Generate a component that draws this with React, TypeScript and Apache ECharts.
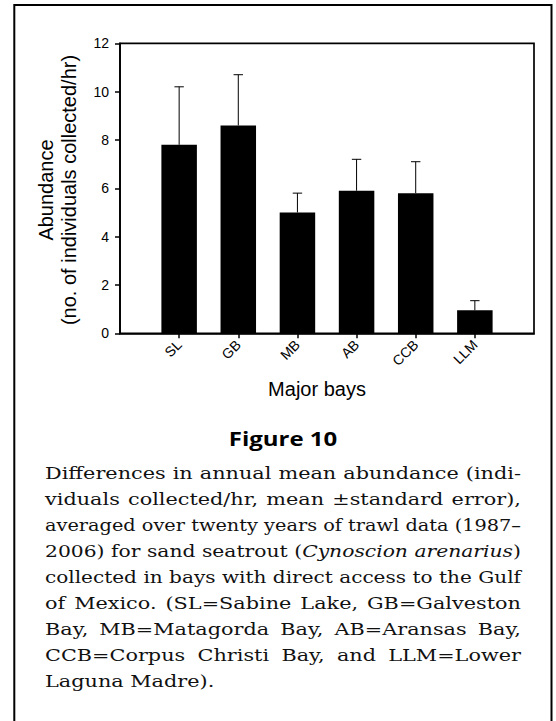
import React, { useEffect, useRef } from "react";
import * as echarts from "echarts";

// ---------- data ----------
const categories = ["SL", "GB", "MB", "AB", "CCB", "LLM"];
const meanAbundance = [7.8, 8.6, 5.0, 5.9, 5.8, 0.95];
const standardError = [2.4, 2.1, 0.8, 1.3, 1.3, 0.4];
const yMin = 0;
const yMax = 12;
const yStep = 2;
const yAxisTitleLines = ["Abundance", "(no. of individuals collected/hr)"];
const xAxisTitle = "Major bays";
const figureLabel = "Figure 10";
const captionLines = [
  "Differences in annual mean abundance (indi-",
  "viduals collected/hr, mean ±standard error),",
  "averaged over twenty years of trawl data (1987–",
  "2006) for sand seatrout (*Cynoscion arenarius*)",
  "collected in bays with direct access to the Gulf",
  "of Mexico. (SL=Sabine Lake, GB=Galveston",
  "Bay, MB=Matagorda Bay, AB=Aransas Bay,",
  "CCB=Corpus Christi Bay, and LLM=Lower",
  "Laguna Madre).",
];

// ---------- layout / style ----------
const SANS = '"Liberation Sans", Arial, Helvetica, sans-serif';
const SERIF = '"DejaVu Serif", serif';
const CAP_SIZE = 16;
const CAP_LEFT = 45;
const CAP_WIDTH = 476;
const CAP_FIRST_BASE = 479;
const CAP_LEAD = 26;
const CAP_MAX_STRETCH = 1.3;

type Seg = { text: string; italic: boolean };

function parseLine(line: string): Seg[][] {
  let italic = false;
  return line.split(" ").map((word) => {
    const segs: Seg[] = [];
    word.split("*").forEach((p, k) => {
      if (k > 0) italic = !italic;
      if (p) segs.push({ text: p, italic });
    });
    return segs;
  });
}

function buildCaption(): any[] {
  const canvas = document.createElement("canvas");
  const ctx = canvas.getContext("2d")!;
  const measure = (t: string, italic: boolean) => {
    ctx.font = `${italic ? "italic " : ""}${CAP_SIZE}px "DejaVu Serif"`;
    return ctx.measureText(t).width;
  };
  const spaceW = measure(" ", false);
  const out: any[] = [];
  captionLines.forEach((line, li) => {
    const words = parseLine(line);
    const widths = words.map((w) => w.reduce((s, g) => s + measure(g.text, g.italic), 0));
    const sumW = widths.reduce((a, b) => a + b, 0);
    const n = words.length;
    const natural = sumW + spaceW * (n - 1);
    const isLast = li === captionLines.length - 1;
    let s: number;
    let gap: number;
    if (isLast) {
      s = CAP_MAX_STRETCH;
      gap = spaceW * s;
    } else {
      s = Math.min(CAP_MAX_STRETCH, CAP_WIDTH / natural);
      gap = n > 1 ? (CAP_WIDTH - s * sumW) / (n - 1) : 0;
    }
    const y = CAP_FIRST_BASE + li * CAP_LEAD - 0.346 * CAP_SIZE;
    let x = CAP_LEFT;
    words.forEach((w, wi) => {
      let sx = x;
      w.forEach((g) => {
        out.push({
          type: "text",
          x: sx,
          y,
          scaleX: s,
          silent: true,
          style: {
            text: g.text,
            fontFamily: SERIF,
            fontSize: CAP_SIZE,
            fontStyle: g.italic ? "italic" : "normal",
            fill: "#111",
            align: "left",
            verticalAlign: "middle",
          },
        });
        sx += measure(g.text, g.italic) * s;
      });
      x += widths[wi] * s + gap;
    });
  });
  return out;
}

export default function App() {
  const ref = useRef<HTMLDivElement>(null);
  useEffect(() => {
    const el = ref.current!;
    const chart = echarts.init(el, null, { renderer: "svg" });

    const xCats = ["", ...categories, ""];
    const barData = ["-", ...meanAbundance, "-"];
    const errData = categories.map((_, i) => [i + 1, meanAbundance[i], meanAbundance[i] + standardError[i]]);
    const lineStyle = { color: "#000", width: 1.7 };

    const option: any = {
      animation: false,
      backgroundColor: "#fff",
      grid: {
        left: 120,
        top: 43.3,
        width: 414,
        height: 290,
        show: true,
        borderColor: "#000",
        borderWidth: 1.7,
        backgroundColor: "transparent",
      },
      xAxis: {
        type: "category",
        data: xCats,
        boundaryGap: false,
        axisLine: { show: true, onZero: false, lineStyle },
        axisTick: {
          show: true,
          length: 5,
          interval: (i: number) => i > 0 && i < xCats.length - 1,
          lineStyle: { color: "#000", width: 1.5 },
        },
        axisLabel: {
          interval: 0,
          rotate: 45,
          margin: 9,
          fontFamily: SANS,
          fontSize: 14,
          color: "#000",
        },
        splitLine: { show: false },
      },
      yAxis: {
        type: "value",
        min: yMin,
        max: yMax,
        interval: yStep,
        axisLine: { show: true, lineStyle },
        axisTick: { show: true, length: 5, lineStyle: { color: "#000", width: 1.5 } },
        axisLabel: { margin: 11, fontFamily: SANS, fontSize: 14, color: "#000" },
        splitLine: { show: false },
      },
      series: [
        {
          type: "bar",
          data: barData,
          barWidth: 35.5,
          itemStyle: { color: "#000" },
          silent: true,
        },
        {
          type: "custom",
          data: errData,
          z: 3,
          silent: true,
          encode: { x: 0, y: [1, 2] },
          renderItem: (params: any, api: any) => {
            const base = api.coord([api.value(0), api.value(1)]);
            const top = api.coord([api.value(0), api.value(2)]);
            const st = { stroke: "#000", lineWidth: 1 };
            return {
              type: "group",
              children: [
                { type: "line", shape: { x1: base[0], y1: base[1], x2: top[0], y2: top[1] }, style: st },
                { type: "line", shape: { x1: top[0] - 4.7, y1: top[1], x2: top[0] + 4.7, y2: top[1] }, style: st },
              ],
            };
          },
        },
      ],
      graphic: [
        {
          type: "rect",
          silent: true,
          shape: { x: 14.3, y: 4.9, width: 537.2, height: 800 },
          style: { fill: "none", stroke: "#000", lineWidth: 2 },
        },
        {
          type: "text",
          x: 46,
          y: 190,
          rotation: Math.PI / 2,
          silent: true,
          style: { text: yAxisTitleLines[0], fontFamily: SANS, fontSize: 20, fill: "#000", align: "center", verticalAlign: "middle" },
        },
        {
          type: "text",
          x: 68.7,
          y: 190,
          rotation: Math.PI / 2,
          silent: true,
          style: { text: yAxisTitleLines[1], fontFamily: SANS, fontSize: 20, fill: "#000", align: "center", verticalAlign: "middle" },
        },
        {
          type: "text",
          x: 317,
          y: 389,
          silent: true,
          style: { text: xAxisTitle, fontFamily: SANS, fontSize: 20, fill: "#000", align: "center", verticalAlign: "middle" },
        },
        {
          type: "text",
          x: 283,
          y: 445.5 - 0.388 * 20,
          scaleX: 1.2,
          silent: true,
          style: {
            text: figureLabel,
            fontFamily: '"Open Sans", "Noto Sans", sans-serif',
            fontWeight: "bold",
            fontSize: 20,
            fill: "#000",
            align: "center",
            verticalAlign: "middle",
          },
        },
        ...buildCaption(),
      ],
    };
    chart.setOption(option);
    return () => chart.dispose();
  }, []);
  return (
    <div
      ref={ref}
      style={{ position: "fixed", left: 0, top: 0, width: 556, height: 721, background: "#fff" }}
    />
  );
}
